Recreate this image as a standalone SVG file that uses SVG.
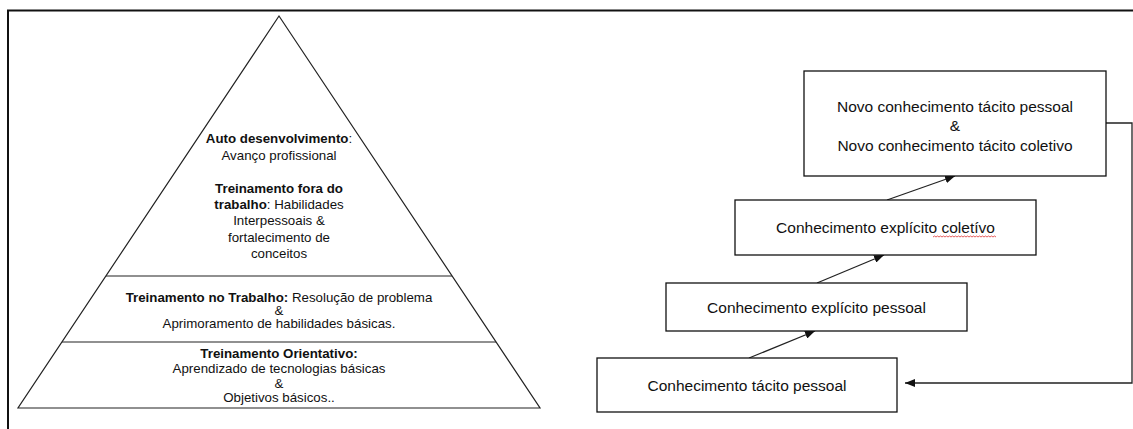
<svg xmlns="http://www.w3.org/2000/svg" width="1133" height="429" viewBox="0 0 1133 429">
<defs>
<style>
.t{font-family:"Liberation Sans",Arial,sans-serif;font-size:13.3px;fill:#111;text-anchor:middle}
.b{font-weight:bold}
.bt{font-family:"Liberation Sans",Arial,sans-serif;font-size:15.5px;fill:#111;text-anchor:middle}
.box{fill:#fff;stroke:#111;stroke-width:1.3}
.pl{fill:none;stroke:#222;stroke-width:1.2}
.con{fill:none;stroke:#222;stroke-width:1.3}
</style>
<marker id="ah" markerUnits="userSpaceOnUse" markerWidth="10" markerHeight="8" refX="10" refY="4" orient="auto">
<path d="M0,0 L10,4 L0,8 z" fill="#111"/>
</marker>
</defs>
<rect width="1133" height="429" fill="#fff"/>
<g id="frame">
<path d="M8,429 L8,10.5 L1133,10.5" fill="none" stroke="#111" stroke-width="2"/>
</g>
<g id="pyramid">
<path class="pl" d="M279,16 L540,408 L18,408 Z"/>
<g id="layer-top">
<text class="t"><tspan x="279" y="142.5"><tspan class="b">Auto desenvolvimento</tspan>:</tspan><tspan x="279" y="159.5">Avanço profissional</tspan><tspan x="279" y="192.5" class="b">Treinamento fora do</tspan><tspan x="279" y="208.5"><tspan class="b">trabalho</tspan>: Habilidades</tspan><tspan x="279" y="225">Interpessoais &amp;</tspan><tspan x="279" y="241.5">fortalecimento de</tspan><tspan x="279" y="257.5">conceitos</tspan></text>
</g>
<g id="layer-middle">
<path class="pl" d="M106,276 L452,276"/>
<text class="t"><tspan x="279" y="301.5"><tspan class="b">Treinamento no Trabalho:</tspan> Resolução de problema</tspan><tspan x="279" y="314.5">&amp;</tspan><tspan x="279" y="327.5">Aprimoramento de habilidades básicas.</tspan></text>
</g>
<g id="layer-bottom">
<path class="pl" d="M62,342 L496,342"/>
<text class="t"><tspan x="279" y="357.5" class="b">Treinamento Orientativo:</tspan><tspan x="279" y="373">Aprendizado de tecnologias básicas</tspan><tspan x="279" y="387.5">&amp;</tspan><tspan x="279" y="402">Objetivos básicos..</tspan></text>
</g>
</g>
<g id="connectors">
<path class="con" d="M749,358 L815,331" marker-end="url(#ah)"/>
<path class="con" d="M817,283 L884,255" marker-end="url(#ah)"/>
<path class="con" d="M887,200 L955,176" marker-end="url(#ah)"/>
<path class="con" d="M1106,123 L1132,123 L1132,383 L905,383" marker-end="url(#ah)"/>
</g>
<g id="box-novo">
<rect class="box" x="804" y="71" width="302" height="105"/>
<text class="bt"><tspan x="955" y="111.5">Novo conhecimento tácito pessoal</tspan><tspan x="955" y="131">&amp;</tspan><tspan x="955" y="150.5">Novo conhecimento tácito coletivo</tspan></text>
</g>
<g id="box-explicito-coletivo">
<rect class="box" x="735" y="200" width="301" height="55"/>
<text class="bt" x="885.5" y="233">Conhecimento explícito coletívo</text>
<polyline points="933,237 934.5,236 936,237 937.5,236 939,237 940.5,236 942,237 943.5,236 945,237 946.5,236 948,237 949.5,236 951,237 952.5,236 954,237 955.5,236 957,237 958.5,236 960,237 961.5,236 963,237 964.5,236 966,237 967.5,236 969,237 970.5,236 972,237 973.5,236 975,237 976.5,236 978,237 979.5,236 981,237 982.5,236 984,237 985.5,236 987,237 988.5,236 990,237 991.5,236 993,237 994.5,236 996,237" fill="none" stroke="#d33" stroke-width="0.8"/>
</g>
<g id="box-explicito-pessoal">
<rect class="box" x="666" y="283" width="301" height="48"/>
<text class="bt" x="816.5" y="313">Conhecimento explícito pessoal</text>
</g>
<g id="box-tacito-pessoal">
<rect class="box" x="597" y="358" width="300" height="54"/>
<text class="bt" x="747" y="390.5">Conhecimento tácito pessoal</text>
</g>
</svg>
